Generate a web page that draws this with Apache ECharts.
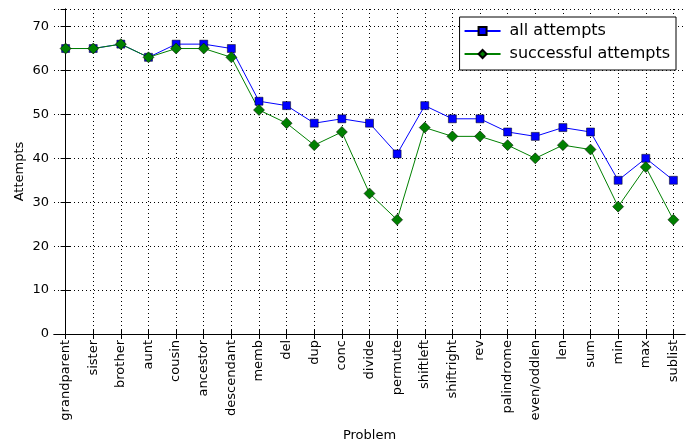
<!DOCTYPE html>
<html lang="en">
  <head>
    <meta charset="UTF-8" />
    <title>Attempts per problem</title>
    <style>
      html, body { margin: 0; padding: 0; background: #fff; }
      .box { width: 686px; height: 444px; }
    </style>
  </head>
  <body>
    <div class="box"></div>
    <script src="https://cdn.jsdelivr.net/npm/echarts@6/dist/echarts.min.js"></script>
    <script>
      var myChart = echarts.init(document.querySelector(".box"));

      // problems on the x axis
      var problems = ["grandparent", "sister", "brother", "aunt", "cousin", "ancestor", "descendant",
        "memb", "del", "dup", "conc", "divide", "permute", "shiftleft", "shiftright", "rev",
        "palindrome", "even/oddlen", "len", "sum", "min", "max", "sublist"];

      var allAttempts = [65, 65, 66, 63, 66, 66, 65, 53, 52, 48, 49, 48, 41, 52, 49, 49, 46, 45, 47, 46, 35, 40, 35];
      var successAttempts = [65, 65, 66, 63, 65, 65, 63, 51, 48, 43, 46, 32, 26, 47, 45, 45, 43, 40, 43, 42, 29, 38, 26];

      // x positions are problem indices (value axis so gridlines sit on the ticks)
      var idx = problems.map(function (p, i) { return i; });
      function pairs(vals) { return vals.map(function (v, i) { return [i, v]; }); }

      var font = "DejaVu Sans";
      var dotted = { show: true, lineStyle: { color: "#000", type: [1, 3], width: 1 } };

      var option = {
        animation: false,
        textStyle: { fontFamily: font },
        grid: { left: 54, right: 1, top: 9, bottom: 110, outerBoundsMode: "none", containLabel: false },
        legend: {
          right: 10,
          top: 17,
          orient: "vertical",
          itemWidth: 36,
          itemHeight: 10,
          itemGap: 7,
          padding: [6, 6, 8, 4],
          borderColor: "#000",
          borderWidth: 1,
          borderRadius: 0,
          backgroundColor: "#fff",
          textStyle: { fontSize: 16, color: "#000", fontFamily: font, padding: [0, 0, 0, 4] },
          data: ["all attempts", "successful attempts"]
        },
        xAxis: [
          {
            type: "value",
            min: -0.42,
            max: 22.42,
            name: "Problem",
            nameLocation: "middle",
            nameGap: 95,
            nameTextStyle: { fontSize: 13, color: "#000" },
            axisLine: { show: true, lineStyle: { color: "#000", width: 1 } },
            axisTick: { show: true, inside: true, length: 5, customValues: idx, lineStyle: { color: "#000" } },
            axisLabel: {
              rotate: 90, fontSize: 13, color: "#000", margin: 6, customValues: idx,
              formatter: function (v) { return problems[Math.round(v)]; }
            },
            splitLine: dotted
          },
          {
            type: "value",
            min: -0.42,
            max: 22.42,
            position: "top",
            axisLine: { show: true, lineStyle: { color: "#000", width: 1 } },
            axisTick: { show: true, inside: true, length: 5, customValues: idx, lineStyle: { color: "#000" } },
            axisLabel: { show: false, customValues: idx },
            splitLine: { show: false }
          }
        ],
        yAxis: [
          {
            type: "value",
            min: 0,
            max: 74,
            interval: 10,
            name: "Attempts",
            nameLocation: "middle",
            nameGap: 28,
            nameMoveOverlap: false,
            nameTextStyle: { fontSize: 13, color: "#000" },
            axisLine: { show: true, lineStyle: { color: "#000", width: 1 } },
            axisTick: { show: true, inside: true, length: 5, lineStyle: { color: "#000" } },
            axisLabel: { fontSize: 13, color: "#000", margin: 5, showMaxLabel: false },
            splitLine: dotted
          },
          {
            type: "value",
            min: 0,
            max: 74,
            interval: 10,
            position: "right",
            axisLine: { show: true, lineStyle: { color: "#000", width: 1 } },
            axisTick: { show: true, inside: true, length: 5, lineStyle: { color: "#000" } },
            axisLabel: { show: false },
            splitLine: { show: false }
          }
        ],
        series: [
          {
            name: "all attempts",
            type: "line",
            data: pairs(allAttempts),
            symbol: "rect",
            symbolSize: 8,
            lineStyle: { color: "#0000ff", width: 1 },
            itemStyle: { color: "#0000ff", borderColor: "#000", borderWidth: 0.5 }
          },
          {
            name: "successful attempts",
            type: "line",
            data: pairs(successAttempts),
            symbol: "diamond",
            symbolSize: 11,
            lineStyle: { color: "#008000", width: 1 },
            itemStyle: { color: "#008000", borderColor: "#000", borderWidth: 0.5 }
          }
        ]
      };
      myChart.setOption(option);
    </script>
  </body>
</html>
